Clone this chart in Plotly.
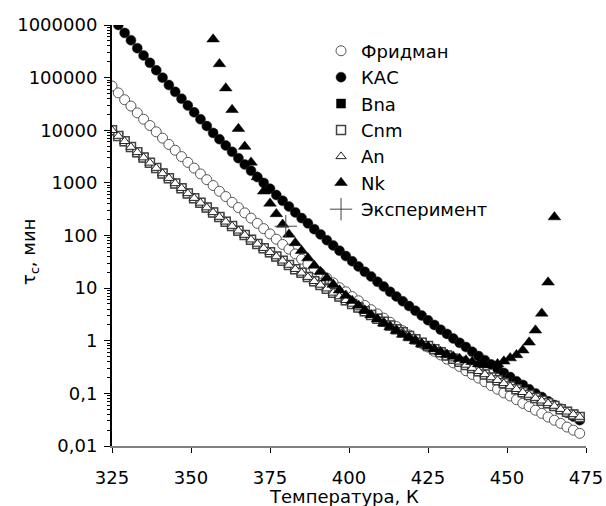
import plotly.graph_objects as go

# Temperatures (K)
T_all = [325, 327, 329, 331, 333, 335, 337, 339, 341, 343, 345, 347, 349, 351, 353, 355, 357, 359, 361, 363,
         365, 367, 369, 371, 373, 375, 377, 379, 381, 383, 385, 387, 389, 391, 393, 395, 397, 399, 401, 403,
         405, 407, 409, 411, 413, 415, 417, 419, 421, 423, 425, 427, 429, 431, 433, 435, 437, 439, 441, 443,
         445, 447, 449, 451, 453, 455, 457, 459, 461, 463, 465, 467, 469, 471, 473]

fridman = [69200, 51300, 38000, 28800, 21400, 16200, 12300, 9330, 7080, 5370, 4170, 3160, 2450, 1910, 1480,
           1150, 891, 692, 550, 427, 339, 269, 214, 170, 135, 107, 85.1, 67.6, 55.0, 44.7, 35.5, 28.8, 23.4,
           19.1, 15.5, 12.6, 10.2, 8.51, 6.92, 5.75, 4.68, 3.89, 3.24, 2.69, 2.24, 1.86, 1.55, 1.29, 1.07,
           0.891, 0.759, 0.631, 0.537, 0.447, 0.380, 0.324, 0.269, 0.229, 0.195, 0.166, 0.141, 0.120, 0.102,
           0.0891, 0.0759, 0.0646, 0.0562, 0.0479, 0.0417, 0.0355, 0.0309, 0.0269, 0.0229, 0.0200, 0.0174]

T_kac = T_all[1:]
kac = [1000000, 708000, 513000, 363000, 263000, 191000, 138000, 100000, 72400, 53700, 39800, 29500, 21900,
       16200, 12000, 8910, 6760, 5130, 3890, 2950, 2240, 1700, 1290, 1000, 776, 589, 457, 355, 275, 214, 170,
       132, 105, 81.3, 64.6, 51.3, 40.7, 32.4, 25.7, 20.4, 16.6, 13.2, 10.7, 8.51, 6.92, 5.62, 4.57, 3.72,
       3.02, 2.45, 2.00, 1.62, 1.35, 1.10, 0.912, 0.759, 0.617, 0.513, 0.427, 0.355, 0.295, 0.245, 0.204,
       0.170, 0.145, 0.120, 0.100, 0.0851, 0.0708, 0.0603, 0.0513, 0.0427, 0.0363, 0.0309]

bna = [10000, 7760, 6170, 4790, 3800, 3020, 2400, 1910, 1510, 1230, 977, 794, 631, 513, 417, 339, 275, 224,
       182, 151, 123, 102, 83.2, 69.2, 57.5, 47.9, 39.8, 33.1, 27.5, 22.9, 19.5, 16.2, 13.5, 11.5, 9.77, 8.13,
       6.92, 5.89, 5.01, 4.27, 3.63, 3.09, 2.63, 2.29, 1.95, 1.66, 1.45, 1.23, 1.07, 0.912, 0.794, 0.692,
       0.603, 0.525, 0.457, 0.398, 0.347, 0.302, 0.263, 0.229, 0.200, 0.178, 0.155, 0.135, 0.120, 0.105,
       0.0933, 0.0813, 0.0724, 0.0646, 0.0575, 0.0501, 0.0447, 0.0398, 0.0355]

cnm = [10000, 7760, 6170, 4790, 3800, 3020, 2400, 1910, 1510, 1230, 977, 794, 631, 513, 417, 339, 275, 224,
       182, 151, 123, 102, 83.2, 69.2, 57.5, 47.9, 39.8, 33.1, 27.5, 22.9, 19.5, 16.2, 13.5, 11.5, 9.77, 8.13,
       6.92, 5.89, 5.01, 4.27, 3.63, 3.09, 2.63, 2.29, 1.95, 1.66, 1.45, 1.23, 1.07, 0.912, 0.794, 0.692,
       0.603, 0.525, 0.457, 0.398, 0.347, 0.302, 0.263, 0.229, 0.200, 0.178, 0.155, 0.135, 0.120, 0.105,
       0.0933, 0.0813, 0.0724, 0.0646, 0.0575, 0.0501, 0.0447, 0.0398, 0.0355]

an = [10000, 7760, 6170, 4790, 3800, 3020, 2400, 1910, 1510, 1230, 977, 794, 631, 513, 417, 339, 275, 224,
      182, 151, 123, 102, 83.2, 69.2, 57.5, 47.9, 39.8, 33.1, 27.5, 22.9, 19.5, 16.2, 13.5, 11.5, 9.77, 8.13,
      6.92, 5.89, 5.01, 4.27, 3.63, 3.09, 2.63, 2.29, 1.95, 1.66, 1.45, 1.23, 1.07, 0.912, 0.794, 0.692,
      0.603, 0.525, 0.457, 0.398, 0.347, 0.302, 0.263, 0.229, 0.200, 0.178, 0.155, 0.135, 0.120, 0.105,
      0.0933, 0.0813, 0.0724, 0.0646, 0.0575, 0.0501, 0.0447, 0.0398, 0.0355]

T_nk = [357, 359, 361, 363, 365, 367, 369, 371, 373, 375, 377, 379, 381, 383, 385, 387, 389, 391, 393, 395,
        397, 399, 401, 403, 405, 407, 409, 411, 413, 415, 417, 419, 421, 423, 425, 427, 429, 431, 433, 435,
        437, 439, 441, 443, 445, 447, 449, 451, 453, 455, 457, 459, 461, 463, 465]
nk = [537000, 182000, 63100, 24500, 10700, 4900, 2450, 1290, 692, 407, 257, 162, 105, 72.4, 51.3, 37.2,
      26.9, 20.4, 15.5, 11.7, 9.12, 7.24, 5.75, 4.68, 3.80, 3.09, 2.57, 2.14, 1.82, 1.55, 1.32, 1.15, 1.00,
      0.871, 0.776, 0.692, 0.617, 0.550, 0.501, 0.457, 0.427, 0.398, 0.363, 0.347, 0.347, 0.363, 0.407,
      0.468, 0.537, 0.661, 0.933, 1.58, 3.31, 12.9, 224]

T_exp = [380]
exper = [150]

x_ticks = [325, 350, 375, 400, 425, 450, 475]
y_tickvals = [0.01, 0.1, 1, 10, 100, 1000, 10000, 100000, 1000000]
y_ticktext = ["0,01", "0,1", "1", "10", "100", "1000", "10000", "100000", "1000000"]

FONT = "DejaVu Sans, Liberation Sans, Arial, sans-serif"
FS = 18
MS = 9

fig = go.Figure()
fig.add_trace(go.Scatter(x=T_all, y=fridman, mode="markers", name="Фридман", legendgroup="a",
                         marker=dict(symbol="circle", size=MS + 1, color="white",
                                     line=dict(color="#555555", width=1))))
fig.add_trace(go.Scatter(x=T_kac, y=kac, mode="markers", name="КАС", legendgroup="b",
                         marker=dict(symbol="circle", size=MS + 1, color="black",
                                     line=dict(color="#333333", width=0.5))))
fig.add_trace(go.Scatter(x=T_all, y=bna, mode="markers", name="Bna", legendgroup="c",
                         marker=dict(symbol="square", size=MS, color="black",
                                     line=dict(color="black", width=0.5))))
fig.add_trace(go.Scatter(x=T_all, y=cnm, mode="markers", name="Cnm", legendgroup="d",
                         marker=dict(symbol="square", size=MS, color="white",
                                     line=dict(color="#444444", width=1.5))))
fig.add_trace(go.Scatter(x=T_all, y=an, mode="markers", name="An", legendgroup="e",
                         marker=dict(symbol="triangle-up", size=MS, color="white",
                                     line=dict(color="#222222", width=1))))
fig.add_trace(go.Scatter(x=T_nk, y=nk, mode="markers", name="Nk", legendgroup="f",
                         marker=dict(symbol="triangle-up", size=MS + 2, color="black",
                                     line=dict(color="black", width=0.5))))
fig.add_trace(go.Scatter(x=T_exp, y=exper, mode="markers", name="Эксперимент", legendgroup="g",
                         marker=dict(symbol="cross-thin", size=16,
                                     line=dict(color="#444444", width=1))))

fig.update_layout(
    width=606, height=506,
    margin=dict(l=112, r=20, t=25, b=60, autoexpand=False),
    paper_bgcolor="white", plot_bgcolor="white",
    font=dict(family=FONT, size=FS, color="black"),
    showlegend=True,
    legend=dict(x=0.441, y=0.982, xanchor="left", yanchor="top",
                bgcolor="rgba(0,0,0,0)", font=dict(size=FS, family=FONT),
                tracegroupgap=0, itemwidth=30),
    xaxis=dict(range=[325, 475], tickmode="array", tickvals=x_ticks, automargin=False,
               ticks="outside", ticklen=5, tickcolor="black", tickwidth=1,
               showline=True, linecolor="#808080", linewidth=2, showgrid=False, zeroline=False,
               tickfont=dict(size=FS, family=FONT), ticklabelstandoff=9),
    yaxis=dict(type="log", range=[-2, 6], tickmode="array", tickvals=y_tickvals, ticktext=y_ticktext,
               automargin=False,
               ticks="outside", ticklen=6, tickcolor="black", tickwidth=1,
               showline=True, linecolor="black", linewidth=2, showgrid=False, zeroline=False,
               tickfont=dict(size=FS, family=FONT), ticklabelstandoff=3,
               minor=dict(ticks="outside", ticklen=3, tickcolor="black", tickwidth=1, showgrid=False,
                          tickvals=[m * 10 ** e for e in range(-2, 6) for m in range(2, 10)])),
    annotations=[
        dict(text="τ<sub>с</sub>, мин", textangle=-90, xref="paper", yref="paper",
             x=-0.173, y=0.461, xanchor="center", yanchor="middle", showarrow=False,
             font=dict(size=FS, family=FONT)),
        dict(text="Температура, К", xref="paper", yref="paper",
             x=0.489, y=-0.121, xanchor="center", yanchor="middle", showarrow=False,
             font=dict(size=FS, family=FONT)),
    ],
)

fig.write_html("out.html")
